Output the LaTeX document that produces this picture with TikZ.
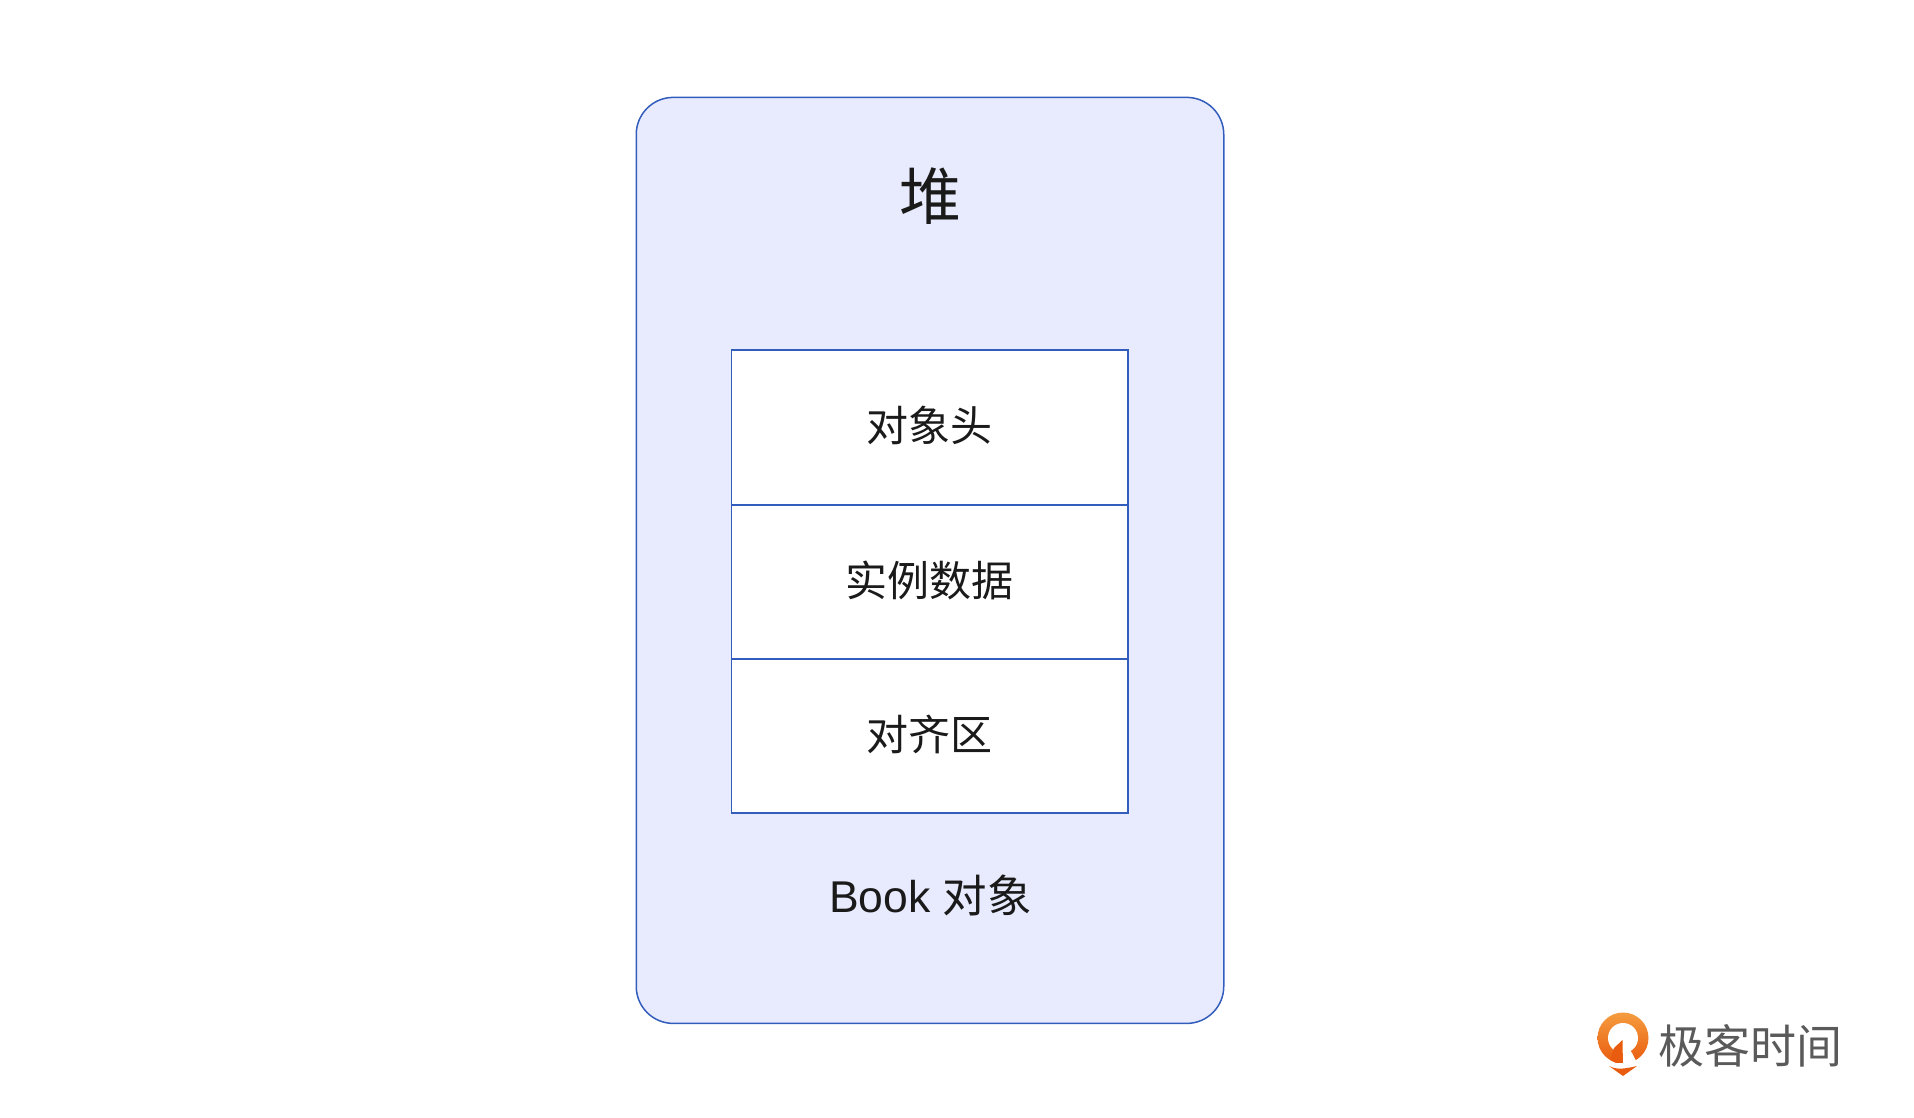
\documentclass[tikz,border=0pt]{standalone}
\usepackage{fontspec}
\setmainfont{Liberation Sans}
\newfontfamily\cjk{Noto Sans CJK SC}
\usetikzlibrary{positioning}

\definecolor{heapfill}{HTML}{E8EBFD}
\definecolor{boxline}{HTML}{335DBC}
\definecolor{textblack}{HTML}{1A1A1A}
\definecolor{logogray}{HTML}{5A5A5A}
\definecolor{logotop}{HTML}{F59C3F}
\definecolor{logobottom}{HTML}{E95B0F}

\begin{document}
\begin{tikzpicture}[
    x = 1pt, y = -1pt,
    node distance = 0pt,
    line width = 1.5pt,
    heap node/.style={draw=boxline,fill=heapfill,rounded corners=37pt,minimum width=587.5pt,minimum height=926pt},
    part node/.style={draw=boxline,fill=white,outer sep=0pt,minimum width=396.5pt,text height=37pt,text depth=9pt,font=\fontsize{42}{50}\selectfont\cjk,text=textblack}
  ]
  \useasboundingbox (0,0) rectangle (1914,1118);

  % Nodes
  \node[heap node] (heap) at (930,560.4) {};
  \node[font=\fontsize{62}{74}\selectfont\cjk,text=textblack] (title) at (930.4,196.2) {堆};
  \node[part node,minimum height=155.4pt] (header) at (929.5,427.5) {对象头};
  \node[part node,minimum height=154pt] (data) [below=of header] {实例数据};
  \node[part node,minimum height=154pt] (padding) [below=of data] {对齐区};
  \node[font=\fontsize{44.5}{52}\selectfont,text=textblack] (book) at (930.4,895) {Book {\cjk 对象}};

  % Logo
  \shade[top color=logotop,bottom color=logobottom] (1623,1038) circle (25.5);
  \fill[white] (1623,1038) circle (15);
  \fill[logobottom] (1614,1048) -- (1622.5,1040) -- (1622.5,1066) -- (1610,1060) -- cycle;
  \fill[white] (1623,1040) -- (1632,1053) -- (1637,1063) -- (1623,1066) -- cycle;
  \fill[white] (1600,1063) rectangle (1650,1066);
  \fill[logobottom] (1609,1066) .. controls (1617,1070) and (1624,1069) .. (1637,1066) -- (1623,1076) -- cycle;
  \node[font=\fontsize{46}{54}\selectfont\cjk,text=logogray,inner sep=0pt] (brand) at (1750.4,1046) {极客时间};
\end{tikzpicture}
\end{document}
